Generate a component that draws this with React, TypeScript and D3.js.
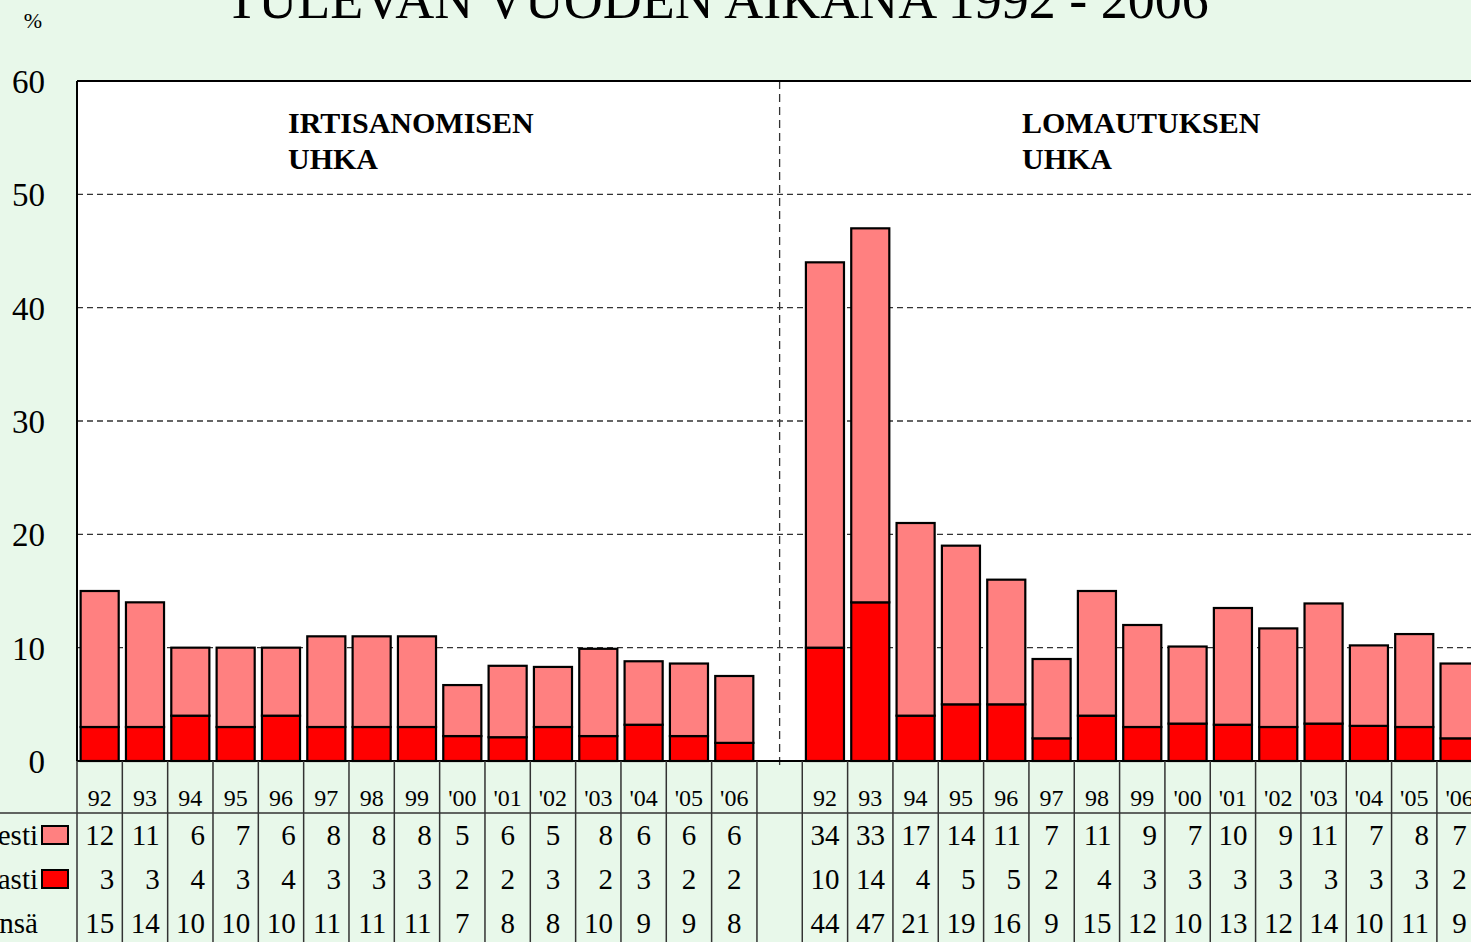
import { useEffect, useRef } from 'react'
import * as d3 from 'd3'

const years = ['92', '93', '94', '95', '96', '97', '98', '99', "'00", "'01", "'02", "'03", "'04", "'05", "'06"]
const groups = ['I', 'L']
const groupTitles = [['IRTISANOMISEN', 'UHKA'], ['LOMAUTUKSEN', 'UHKA']]

// bar heights (%)
const irtVarmasti = [3, 3, 4, 3, 4, 3, 3, 3, 2.2, 2.1, 3, 2.2, 3.2, 2.2, 1.6]
const irtMahdollisesti = [12, 11, 6, 7, 6, 8, 8, 8, 4.5, 6.3, 5.3, 7.7, 5.6, 6.4, 5.9]
const lomVarmasti = [10, 14, 4, 5, 5, 2, 4, 3, 3.3, 3.2, 3, 3.3, 3.1, 3, 2]
const lomMahdollisesti = [34, 33, 17, 14, 11, 7, 11, 9, 6.8, 10.3, 8.7, 10.6, 7.1, 8.2, 6.6]

// data table values
const tabIrtMahd = [12, 11, 6, 7, 6, 8, 8, 8, 5, 6, 5, 8, 6, 6, 6]
const tabIrtVarm = [3, 3, 4, 3, 4, 3, 3, 3, 2, 2, 3, 2, 3, 2, 2]
const tabIrtYht = [15, 14, 10, 10, 10, 11, 11, 11, 7, 8, 8, 10, 9, 9, 8]
const tabLomMahd = [34, 33, 17, 14, 11, 7, 11, 9, 7, 10, 9, 11, 7, 8, 7]
const tabLomVarm = [10, 14, 4, 5, 5, 2, 4, 3, 3, 3, 3, 3, 3, 3, 2]
const tabLomYht = [44, 47, 21, 19, 16, 9, 15, 12, 10, 13, 12, 14, 10, 11, 9]

const rowLabels = ['Mahdollisesti', 'Varmasti', 'Yhteensä']
const yTicks = [0, 10, 20, 30, 40, 50, 60]

const PINK = '#ff8080'
const RED = '#ff0000'
const BG = '#e8f8ea'

export default function App() {
  const svgRef = useRef<SVGSVGElement>(null)

  useEffect(() => {
    const width = 1471
    const height = 942
    const left = 77
    const top = 81
    const bottom = 761
    const step = 45.33
    const serif = "'Liberation Serif', 'Times New Roman', serif"

    const svg = d3.select(svgRef.current)
      .attr('width', width)
      .attr('height', height)
    svg.selectAll('*').remove()

    // categories: 15 years, a gap, 15 years
    const keys = [...years.map(y => 'I' + y), 'gap', ...years.map(y => 'L' + y)]
    const rows = [
      ...years.map((y, i) => ({ key: 'I' + y, label: y, varm: irtVarmasti[i], mahd: irtMahdollisesti[i], t: [tabIrtMahd[i], tabIrtVarm[i], tabIrtYht[i]] })),
      ...years.map((y, i) => ({ key: 'L' + y, label: y, varm: lomVarmasti[i], mahd: lomMahdollisesti[i], t: [tabLomMahd[i], tabLomVarm[i], tabLomYht[i]] }))
    ]

    const x = d3.scaleBand()
      .domain(keys)
      .range([left, left + step * keys.length])
      .paddingInner(0.16)
      .paddingOuter(0.08)

    const y = d3.scaleLinear().domain([0, 60]).range([bottom, top])

    svg.append('rect').attr('width', width).attr('height', height).attr('fill', BG)
    svg.append('rect')
      .attr('x', left).attr('y', top)
      .attr('width', width - left + 20).attr('height', bottom - top)
      .attr('fill', '#fff')

    // grid
    svg.append('g')
      .selectAll('line')
      .data(yTicks.filter(d => d > 0 && d < 60))
      .join('line')
      .attr('x1', left).attr('x2', width)
      .attr('y1', d => y(d)).attr('y2', d => y(d))
      .attr('stroke', '#333').attr('stroke-width', 1.3)
      .attr('stroke-dasharray', '6,4')

    // separator between the two groups
    const gx = x('gap')! + x.bandwidth() / 2
    svg.append('line')
      .attr('x1', gx).attr('x2', gx)
      .attr('y1', top).attr('y2', bottom + 8)
      .attr('stroke', '#333').attr('stroke-width', 1.3)
      .attr('stroke-dasharray', '8,5')

    // stacked bars
    const stack = d3.stack<any>().keys(['varm', 'mahd'])
    const series = stack(rows)
    const colors = [RED, PINK]
    series.forEach((s, si) => {
      svg.append('g')
        .selectAll('rect')
        .data(s)
        .join('rect')
        .attr('x', d => x(d.data.key)!)
        .attr('width', x.bandwidth())
        .attr('y', d => y(d[1]))
        .attr('height', d => y(d[0]) - y(d[1]))
        .attr('fill', colors[si])
        .attr('stroke', '#000')
        .attr('stroke-width', 2.2)
    })

    // frame
    svg.append('line').attr('x1', left).attr('x2', width).attr('y1', top).attr('y2', top)
      .attr('stroke', '#000').attr('stroke-width', 2)
    svg.append('line').attr('x1', left).attr('x2', left).attr('y1', top).attr('y2', bottom)
      .attr('stroke', '#000').attr('stroke-width', 2)
    svg.append('line').attr('x1', left).attr('x2', width).attr('y1', bottom).attr('y2', bottom)
      .attr('stroke', '#000').attr('stroke-width', 2)

    // y axis labels
    svg.append('g')
      .selectAll('text')
      .data(yTicks)
      .join('text')
      .attr('x', 45)
      .attr('y', d => y(d) + 12)
      .attr('text-anchor', 'end')
      .attr('font-family', serif)
      .attr('font-size', 33)
      .text(d => d)
    svg.append('text').attr('x', 33).attr('y', 28).attr('text-anchor', 'middle')
      .attr('font-family', serif).attr('font-size', 22).text('%')

    // title (top line is outside the picture)
    svg.append('text')
      .attr('x', 717).attr('y', 18)
      .attr('text-anchor', 'middle')
      .attr('font-family', serif).attr('font-size', 54)
      .text('TULEVAN VUODEN AIKANA 1992 - 2006')

    // group captions
    groups.forEach((g, gi) => {
      const cx = gi === 0 ? 288 : 1022
      groupTitles[gi].forEach((line, li) => {
        svg.append('text')
          .attr('x', cx).attr('y', 133 + li * 36)
          .attr('font-family', serif).attr('font-size', 30).attr('font-weight', 'bold')
          .text(line)
      })
    })

    // data table
    const tableBottom = height
    svg.append('line').attr('x1', 0).attr('x2', width).attr('y1', 813).attr('y2', 813)
      .attr('stroke', '#333').attr('stroke-width', 1.5)
    const bounds = keys.map(k => x(k)! - x.step() * x.paddingOuter())
    bounds.push(left + step * keys.length)
    svg.append('g')
      .selectAll('line')
      .data(bounds)
      .join('line')
      .attr('x1', d => d).attr('x2', d => d)
      .attr('y1', bottom).attr('y2', tableBottom)
      .attr('stroke', '#333').attr('stroke-width', 1.5)

    const col0 = (k: string) => x(k)! - x.step() * x.paddingOuter()
    svg.append('g')
      .selectAll('text')
      .data(rows)
      .join('text')
      .attr('x', d => col0(d.key) + x.step() / 2)
      .attr('y', 806)
      .attr('text-anchor', 'middle')
      .attr('font-family', serif).attr('font-size', 24)
      .text(d => d.label)

    const rowY = [845, 889, 933]
    rowY.forEach((ry, ri) => {
      svg.append('g')
        .selectAll('text')
        .data(rows)
        .join('text')
        .attr('x', d => d.t.every(v => v < 10) ? col0(d.key) + x.step() / 2 : col0(d.key) + x.step() - 8)
        .attr('y', ry)
        .attr('text-anchor', d => d.t.every(v => v < 10) ? 'middle' : 'end')
        .attr('font-family', serif).attr('font-size', 29)
        .text(d => d.t[ri])

      svg.append('text')
        .attr('x', 38).attr('y', ry)
        .attr('text-anchor', 'end')
        .attr('font-family', serif).attr('font-size', 29)
        .text(rowLabels[ri])
    })

    // legend keys in the table
    ;[PINK, RED].forEach((c, i) => {
      svg.append('rect')
        .attr('x', 42).attr('y', 826 + i * 44)
        .attr('width', 26).attr('height', 18)
        .attr('fill', c).attr('stroke', '#000').attr('stroke-width', 2)
    })
  }, [])

  return (
    <div style={{ position: 'absolute', left: 0, top: 0 }}>
      <svg ref={svgRef} style={{ display: 'block' }}></svg>
    </div>
  )
}
